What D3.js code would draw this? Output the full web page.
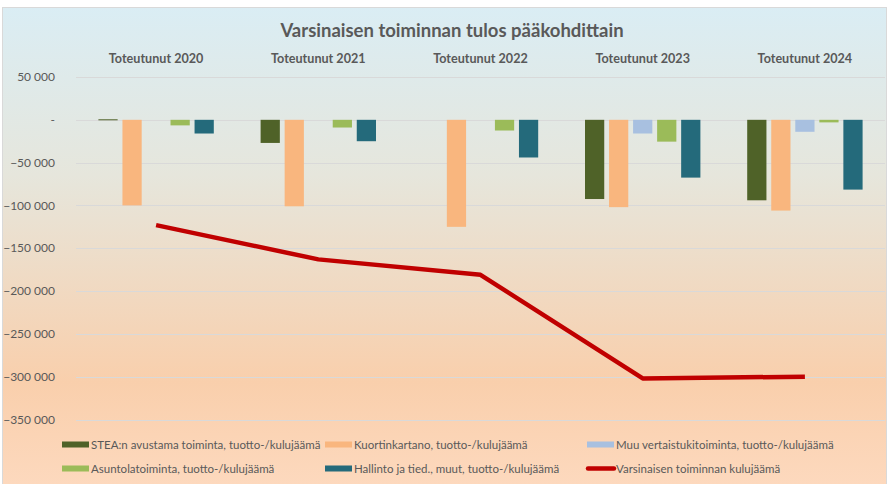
<!DOCTYPE html>
<html>
<head>
<meta charset="utf-8">
<script src="https://cdn.jsdelivr.net/npm/d3@7"></script>
<style>
  body { margin: 0; background: #fff; }
  svg { display: block; font-family: Lato, "Open Sans", sans-serif; }
</style>
</head>
<body>
<svg id="chart" width="889" height="484"></svg>
<script>
// Data
const years = ["Toteutunut 2020", "Toteutunut 2021", "Toteutunut 2022", "Toteutunut 2023", "Toteutunut 2024"];
const seriesNames = [
    "STEA:n avustama toiminta, tuotto-/kulujäämä",
    "Kuortinkartano, tuotto-/kulujäämä",
    "Muu vertaistukitoiminta, tuotto-/kulujäämä",
    "Asuntolatoiminta, tuotto-/kulujäämä",
    "Hallinto ja tied., muut, tuotto-/kulujäämä"
];
const steaValues = [600, -27000, null, -92500, -94000];
const kuortValues = [-100000, -101000, -125000, -102000, -106000];
const muuValues = [null, null, null, -16000, -14000];
const asuntolaValues = [-6500, -9000, -12500, -25500, -3000];
const hallintoValues = [-16000, -25000, -44000, -67500, -81500];
const lineName = "Varsinaisen toiminnan kulujäämä";
const lineValues = [-123000, -163000, -181000, -302000, -300000];
const yTicks = [50000, 0, -50000, -100000, -150000, -200000, -250000, -300000, -350000];

const barSeries = [steaValues, kuortValues, muuValues, asuntolaValues, hallintoValues];
const colors = ["#4f6228", "#f9b67e", "#a8c0e0", "#9bbb59", "#246a7b"];
const lineColor = "#c00000";
const textColor = "#595959";

const svg = d3.select("#chart");

// Background with gradient
const defs = svg.append("defs");
const grad = defs.append("linearGradient")
    .attr("id", "bg")
    .attr("x1", 0).attr("y1", 0).attr("x2", 0).attr("y2", 1);
grad.append("stop").attr("offset", "0%").attr("stop-color", "#daedf4");
grad.append("stop").attr("offset", "35%").attr("stop-color", "#e6e6dc");
grad.append("stop").attr("offset", "78%").attr("stop-color", "#f9cfac");
grad.append("stop").attr("offset", "100%").attr("stop-color", "#fdd9be");

svg.append("rect")
    .attr("x", 2.5).attr("y", 7.5)
    .attr("width", 884).attr("height", 480)
    .attr("fill", "url(#bg)")
    .attr("stroke", "#d9d9d9");

// Scales
const x0 = d3.scaleBand().domain(years).range([75, 886]);
const x1 = d3.scaleBand().domain(d3.range(seriesNames.length)).range([0, 125]).padding(0.2);
const groupOffset = (x0.bandwidth() - 125) / 2;
const y = d3.scaleLinear().domain([-350000, 50000]).range([419.5, 77]);

// Gridlines
svg.append("g")
    .selectAll("line")
    .data(yTicks)
    .join("line")
    .attr("x1", 76).attr("x2", 885)
    .attr("y1", d => Math.round(y(d)) + 0.5)
    .attr("y2", d => Math.round(y(d)) + 0.5)
    .attr("stroke", "#d9d9d9")
    .attr("stroke-width", 1);

// Y axis labels
const fmt = d => d === 0 ? "-" : d3.format(",")(d).replace(/,/g, "\u00a0");
svg.append("g")
    .selectAll("text")
    .data(yTicks)
    .join("text")
    .attr("x", 55)
    .attr("y", d => y(d))
    .attr("dy", "0.35em")
    .attr("text-anchor", "end")
    .attr("fill", textColor)
    .style("font-size", "12px")
    .text(fmt);

// Category labels on top
svg.append("g")
    .selectAll("text")
    .data(years)
    .join("text")
    .attr("x", d => x0(d) + x0.bandwidth() / 2)
    .attr("y", 59)
    .attr("dy", "0.35em")
    .attr("text-anchor", "middle")
    .attr("fill", textColor)
    .style("font-size", "12.6px")
    .style("font-weight", "bold")
    .text(d => d);

// Title
svg.append("text")
    .attr("x", 452)
    .attr("y", 31)
    .attr("dy", "0.35em")
    .attr("text-anchor", "middle")
    .attr("fill", textColor)
    .style("font-size", "18.5px")
    .style("font-weight", "bold")
    .text("Varsinaisen toiminnan tulos pääkohdittain");

// Bars
const barData = [];
barSeries.forEach((vals, s) => {
    vals.forEach((v, i) => {
        if (v !== null) barData.push({ s: s, year: years[i], value: v });
    });
});

svg.append("g")
    .selectAll("rect")
    .data(barData)
    .join("rect")
    .attr("x", d => x0(d.year) + groupOffset + x1(d.s))
    .attr("width", x1.bandwidth())
    .attr("y", d => Math.min(y(d.value), y(0)))
    .attr("height", d => Math.max(Math.abs(y(d.value) - y(0)), 1))
    .attr("fill", d => colors[d.s]);

// Line
const line = d3.line()
    .x((d, i) => x0(years[i]) + x0.bandwidth() / 2)
    .y(d => y(d));

svg.append("path")
    .datum(lineValues)
    .attr("d", line)
    .attr("fill", "none")
    .attr("stroke", lineColor)
    .attr("stroke-width", 4.5)
    .attr("stroke-linejoin", "round");

// Legend
const legendItems = [
    { name: seriesNames[0], color: colors[0], type: "bar" },
    { name: seriesNames[1], color: colors[1], type: "bar" },
    { name: seriesNames[2], color: colors[2], type: "bar" },
    { name: seriesNames[3], color: colors[3], type: "bar" },
    { name: seriesNames[4], color: colors[4], type: "bar" },
    { name: lineName, color: lineColor, type: "line" }
];
const legendCols = [62, 325, 587];
const legendRows = [444.5, 468.5];

const legend = svg.append("g")
    .selectAll("g")
    .data(legendItems)
    .join("g")
    .attr("transform", (d, i) => `translate(${legendCols[i % 3]},${legendRows[Math.floor(i / 3)]})`);

legend.filter(d => d.type === "bar")
    .append("rect")
    .attr("x", 0).attr("y", -3)
    .attr("width", 27).attr("height", 6)
    .attr("fill", d => d.color);

legend.filter(d => d.type === "line")
    .append("line")
    .attr("x1", 1).attr("x2", 27)
    .attr("y1", 0).attr("y2", 0)
    .attr("stroke", d => d.color)
    .attr("stroke-width", 4.5)
    .attr("stroke-linecap", "round");

legend.append("text")
    .attr("x", 29)
    .attr("y", 0)
    .attr("dy", "0.35em")
    .attr("fill", textColor)
    .style("font-size", "11.5px")
    .text(d => d.name);
</script>
</body>
</html>
